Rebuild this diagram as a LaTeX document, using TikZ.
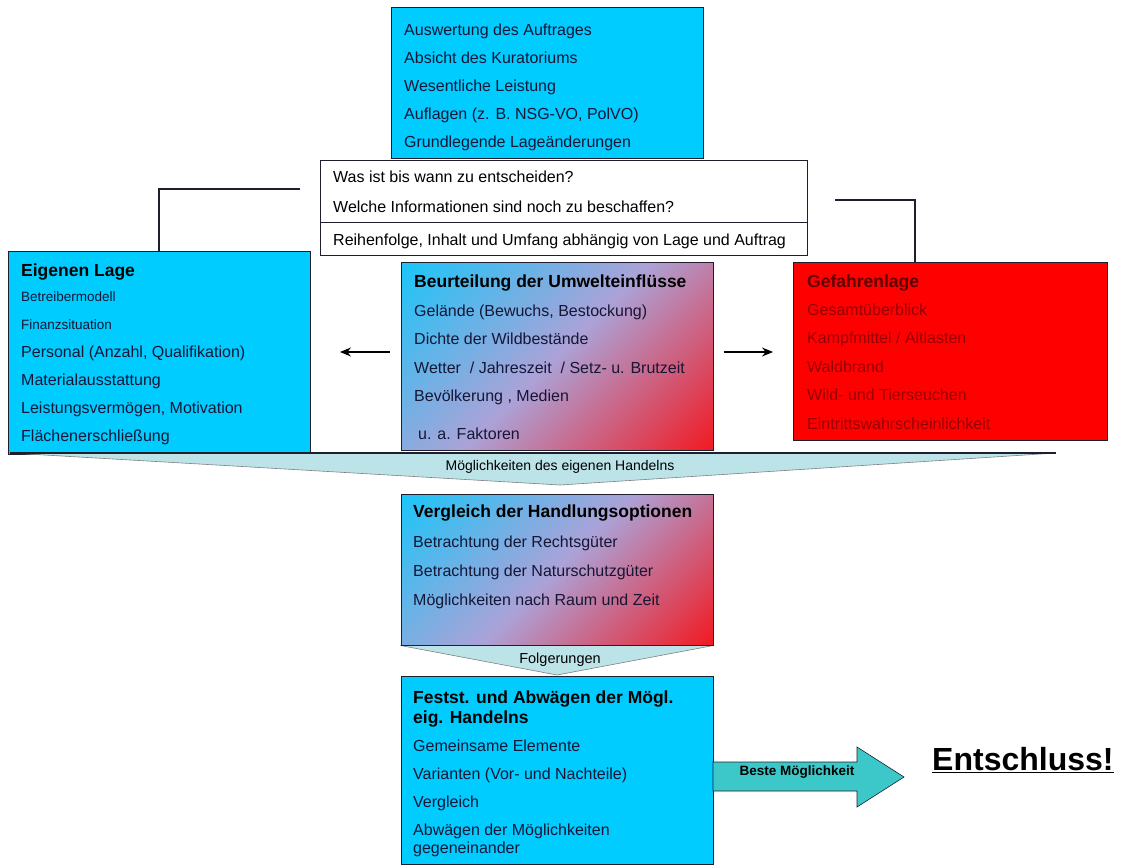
\documentclass[tikz,border=0pt]{standalone}
\usepackage{fontspec}
\setmainfont{Liberation Sans}
\usetikzlibrary{arrows.meta}
\definecolor{boxcyan}{RGB}{0,204,255}
\definecolor{boxred}{RGB}{255,0,0}
\definecolor{midlila}{RGB}{172,162,215}
\definecolor{funnelc}{RGB}{188,228,232}
\definecolor{arrowc}{RGB}{60,200,200}
\definecolor{txtc}{RGB}{22,22,55}
\definecolor{redtxt}{RGB}{150,0,0}
\definecolor{redhead}{RGB}{95,0,0}
\definecolor{edgec}{RGB}{30,30,45}
\pgfdeclarehorizontalshading{lagegrad}{100bp}{color(0bp)=(boxcyan); color(8bp)=(boxcyan); color(50bp)=(midlila); color(92bp)=(boxred); color(100bp)=(boxred)}
\begin{document}
\begin{tikzpicture}[x=1pt,y=-1pt,
  box/.style={draw=edgec, line width=1pt, inner sep=0pt},
  bluebox/.style={box, fill=boxcyan},
  redbox/.style={box, fill=boxred},
  whitebox/.style={box, fill=white, minimum width=487pt},
  shadebox/.style={box, shade, shading=lagegrad, shading angle=-45},
  txt/.style={anchor=north west, inner sep=0pt, align=left, text=txtc, font=\fontsize{16}{28}\selectfont},
  head/.style={anchor=base west, inner sep=0pt, text=black, font=\fontsize{17.5}{20}\selectfont\bfseries},
  funnel/.style={fill=funnelc, draw=gray, line width=.6pt},
  pfeil/.style={-{Stealth[length=11pt,width=9pt]}, line width=1.2pt}]
\useasboundingbox (0,0) rectangle (1126,864);
% boxes
\node[bluebox, minimum width=312pt, minimum height=150pt] (auftrag) at (547,83){};
\node[whitebox, minimum height=62pt] (frage) at (563.5,191){};
\node[whitebox, minimum height=33pt] (reihe) at (563.5,238.5){};
\node[bluebox, minimum width=302pt, minimum height=203pt] (eigen) at (159,352.5){};
\node[shadebox, minimum width=312pt, minimum height=188pt] (umwelt) at (557,356){};
\node[redbox, minimum width=314pt, minimum height=178pt] (gefahr) at (950,351){};
% funnel 1
\path[funnel] (10,453) -- (1056,453) -- (560,485) -- cycle;
\draw[edgec, line width=1.6pt] (10,453) -- (1056,453);
\node[inner sep=0pt, font=\fontsize{14}{16}\selectfont] (moeg) at (560,467){Möglichkeiten des eigenen Handelns};
\node[shadebox, minimum width=312pt, minimum height=151pt] (vergleich) at (557,569.5){};
% funnel 2
\path[funnel] (vergleich.south west) -- (vergleich.south east) -- (557,675) -- cycle;
\draw[edgec, line width=1.6pt] (vergleich.south west) -- (vergleich.south east);
\node[inner sep=0pt, font=\fontsize{14.5}{16}\selectfont] (folg) at (560,660){Folgerungen};
\node[bluebox, minimum width=312pt, minimum height=188pt] (abwaegen) at (557,770){};
% texts
\node[txt] (auftragtxt) at (404,15.4){\strut Auswertung des Auftrages\\Absicht des Kuratoriums\\Wesentliche Leistung\\Auflagen (z. B. NSG-VO, PolVO)\\Grundlegende Lageänderungen};
\node[txt, text=black, font=\fontsize{16}{30}\selectfont] (fragetxt) at (333,161){\strut Was ist bis wann zu entscheiden?\\Welche Informationen sind noch zu beschaffen?};
\node[anchor=base west, inner sep=0pt, font=\fontsize{16}{20}\selectfont] (reihetxt) at (333,245){Reihenfolge, Inhalt und Umfang abhängig von Lage und Auftrag};
\node[head] (eigenhead) at (21,276){Eigenen Lage};
\node[txt] (eigentxt) at (21,281.4){\strut{\fontsize{13.5}{28}\selectfont Betreibermodell}\\{\fontsize{13.5}{28}\selectfont Finanzsituation}\\Personal (Anzahl, Qualifikation)\\Materialausstattung\\Leistungsvermögen, Motivation\\Flächenerschließung};
\node[head] (umwelthead) at (414,287){Beurteilung der Umwelteinflüsse};
\node[txt, font=\fontsize{16}{28.5}\selectfont] (umwelttxt) at (414,296){\strut Gelände (Bewuchs, Bestockung)\\Dichte der Wildbestände\\Wetter~ / Jahreszeit~ / Setz- u. Brutzeit\\Bevölkerung , Medien\\[9pt]\hspace*{4pt}u. a. Faktoren};
\node[head, text=redhead] (gefahrhead) at (807,287){Gefahrenlage};
\node[txt, text=redtxt, font=\fontsize{16}{28.5}\selectfont] (gefahrtxt) at (807,295){\strut Gesamtüberblick\\Kampfmittel / Altlasten\\Waldbrand\\Wild- und Tierseuchen\\Eintrittswahrscheinlichkeit};
\node[head] (vergleichhead) at (413,517){Vergleich der Handlungsoptionen};
\node[txt, font=\fontsize{16}{29}\selectfont] (vergleichtxt) at (413,526.7){\strut Betrachtung der Rechtsgüter\\Betrachtung der Naturschutzgüter\\Möglichkeiten nach Raum und Zeit};
\node[head, anchor=north west, align=left] (abwaegenhead) at (413,689){\strut Festst. und Abwägen der Mögl.\\eig. Handelns};
\node[txt] (abwaegentxt) at (413,731.4){\strut Gemeinsame Elemente\\Varianten (Vor- und Nachteile)\\Vergleich\\Abwägen der Möglichkeiten\\[-10pt]gegeneinander};
% brackets
\coordinate (lk) at (300,189);
\coordinate (rk) at (835,200);
\draw[edgec, line width=1.6pt] (lk) -| (eigen.north);
\draw[edgec, line width=1.6pt] (rk) -| ([xshift=-35pt]gefahr.north);
% arrows
\coordinate (la) at (340,352);
\coordinate (ra) at (773,352);
\draw[pfeil] ([shift={(-11pt,4pt)}]umwelt.west) -- (la);
\draw[pfeil] ([shift={(10pt,4pt)}]umwelt.east) -- (ra);
% result arrow
\draw[fill=arrowc, draw=edgec, line width=.6pt] (713,762) -- (857,762) -- (857,747) -- (904,777) -- (857,807) -- (857,791) -- (713,791) -- cycle;
\node[inner sep=0pt, font=\fontsize{13.5}{15}\selectfont\bfseries] (beste) at (797,772){Beste Möglichkeit};
\node[anchor=base west, inner sep=0pt, font=\fontsize{32}{34}\selectfont\bfseries] (entschluss) at (932,770){\underline{Entschluss!}};
\end{tikzpicture}
\end{document}
